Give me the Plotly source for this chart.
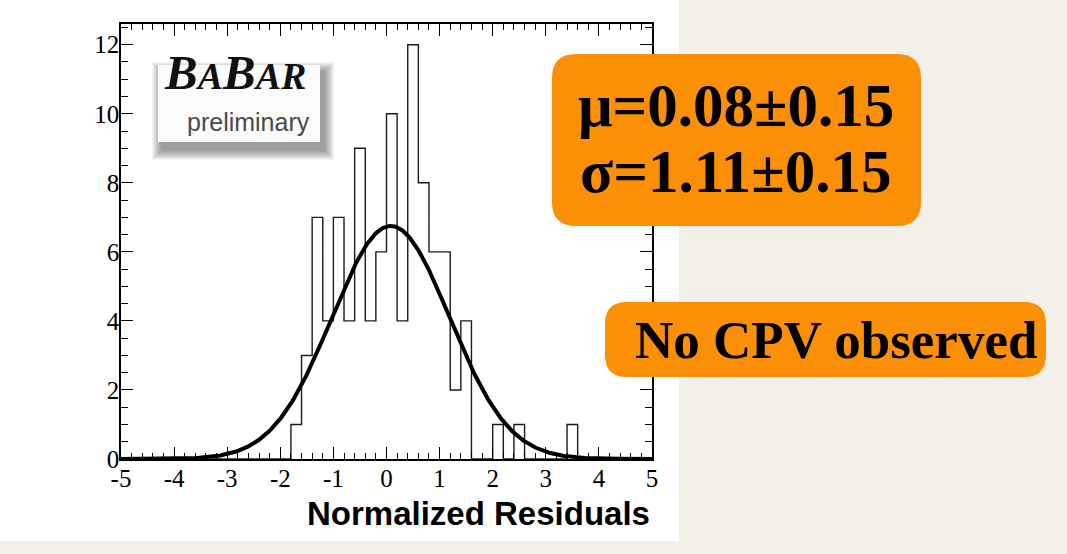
import numpy as np
import plotly.graph_objects as go

# Histogram of normalized residuals: 50 bins between -5 and 5
x_min, x_max, n_bins = -5.0, 5.0, 50
counts = [0, 0, 0, 0, 0, 0, 0, 0, 0, 0,
          0, 0, 0, 0, 0, 0, 1, 3, 7, 4,
          7, 4, 9, 4, 6, 10, 4, 12, 8, 6,
          6, 2, 4, 0, 0, 1, 0, 1, 0, 0,
          0, 0, 1, 0, 0, 0, 0, 0, 0, 0]

# Gaussian fit result
fit_mu = 0.08
fit_sigma = 1.11
fit_peak = 6.75

x_tick_vals = [-5, -4, -3, -2, -1, 0, 1, 2, 3, 4, 5]
x_tick_text = ["-5", "-4", "-3", "-2", "-1", "0", "1", "2", "3", "4", "5"]
y_tick_vals = [0, 2, 4, 6, 8, 10, 12]
y_tick_text = ["0", "2", "4", "6", "8", "10", "12"]

fit_text = ["μ=0.08±0.15", "σ=1.11±0.15"]
note_text = "No CPV observed"
x_title = "Normalized Residuals"

# ---- geometry of the page (pixels) ----
FIG_W, FIG_H = 1067, 554
L, R, T, B = 121, 415, 24, 95
PW, PH = FIG_W - L - R, FIG_H - T - B


def px(xp):
    return (xp - L) / PW


def py(yp):
    return (T + PH - yp) / PH


def rounded_rect(x0, y0, x1, y1, r):
    rx, ry = r / PW, r / PH
    X0, X1 = px(x0), px(x1)
    Y0, Y1 = py(y0), py(y1)  # Y0 top, Y1 bottom
    return (f"M {X0+rx},{Y0} L {X1-rx},{Y0} Q {X1},{Y0} {X1},{Y0-ry} "
            f"L {X1},{Y1+ry} Q {X1},{Y1} {X1-rx},{Y1} "
            f"L {X0+rx},{Y1} Q {X0},{Y1} {X0},{Y1+ry} "
            f"L {X0},{Y0-ry} Q {X0},{Y0} {X0+rx},{Y0} Z")


edges = np.linspace(x_min, x_max, n_bins + 1)
step_x = list(edges)
step_y = list(counts) + [counts[-1]]

xs = np.linspace(x_min, x_max, 600)
ys = fit_peak * np.exp(-0.5 * ((xs - fit_mu) / fit_sigma) ** 2)

fig = go.Figure()
fig.add_trace(go.Scatter(x=step_x, y=step_y, mode="lines",
                         line=dict(color="#1a1a1a", width=1.4, shape="hv"),
                         hoverinfo="skip", showlegend=False))
fig.add_trace(go.Scatter(x=xs, y=ys, mode="lines",
                         line=dict(color="black", width=4),
                         hoverinfo="skip", showlegend=False))

shapes = []
# white panel carrying the plot
shapes.append(dict(type="rect", xref="paper", yref="paper", layer="below",
                   x0=px(0), x1=px(679), y0=py(541), y1=py(0),
                   fillcolor="white", line=dict(width=0)))

# logo box with soft shadow
lx0, ly0, lx1, ly1 = 158, 65, 320, 142
for k in range(10, 0, -1):
    shapes.append(dict(type="rect", xref="paper", yref="paper",
                       x0=px(lx0 + 4 - k), x1=px(lx1 + 4 + k),
                       y0=py(ly1 + 8 + k), y1=py(ly0 + 7 - k),
                       fillcolor="rgba(0,0,0,0.045)", line=dict(width=0)))
shapes.append(dict(type="rect", xref="paper", yref="paper",
                   x0=px(lx0), x1=px(lx1), y0=py(ly1), y1=py(ly0),
                   fillcolor="#fbfbfb", line=dict(width=0)))

# orange call-out boxes
orange = "#fb8f06"
shapes.append(dict(type="path", xref="paper", yref="paper",
                   path=rounded_rect(552, 54, 921, 226, 24),
                   fillcolor=orange, line=dict(width=0)))
shapes.append(dict(type="path", xref="paper", yref="paper",
                   path=rounded_rect(605, 302, 1046, 377, 22),
                   fillcolor=orange, line=dict(width=0)))

annotations = []
serif = "Liberation Serif"
annotations.append(dict(xref="paper", yref="paper", x=px(162), y=py(102),
                        xanchor="left", yanchor="bottom", showarrow=False,
                        text="<b><i>B<span style='font-size:38px'>A</span>B"
                             "<span style='font-size:38px'>AR</span></i></b>",
                        font=dict(family=serif, size=49, color="#111")))
annotations.append(dict(xref="paper", yref="paper", x=px(312), y=py(122),
                        xanchor="right", yanchor="middle", showarrow=False,
                        text="preliminary",
                        font=dict(family="Liberation Sans", size=25, color="#4a4a4a")))
annotations.append(dict(xref="paper", yref="paper", x=px(736), y=py(106),
                        xanchor="center", yanchor="middle", showarrow=False,
                        text=f"<b>{fit_text[0]}</b>",
                        font=dict(family=serif, size=61, color="black")))
annotations.append(dict(xref="paper", yref="paper", x=px(736), y=py(171),
                        xanchor="center", yanchor="middle", showarrow=False,
                        text=f"<b>{fit_text[1]}</b>",
                        font=dict(family=serif, size=61, color="black")))
annotations.append(dict(xref="paper", yref="paper", x=px(836), y=py(340),
                        xanchor="center", yanchor="middle", showarrow=False,
                        text=f"<b>{note_text}</b>",
                        font=dict(family=serif, size=53, color="black")))
annotations.append(dict(xref="paper", yref="paper", x=px(651), y=py(513),
                        xanchor="right", yanchor="middle", showarrow=False,
                        borderpad=0,
                        text=f"<b>{x_title}</b>",
                        font=dict(family="Liberation Sans", size=33, color="black")))

axis_common = dict(showline=True, linecolor="black", linewidth=1.6,
                   mirror="allticks", ticks="inside", tickcolor="black",
                   tickwidth=1.4, showgrid=False, zeroline=False)

fig.update_layout(
    width=FIG_W, height=FIG_H,
    margin=dict(l=L, r=R, t=T, b=B, pad=0),
    paper_bgcolor="#f3f0ea", plot_bgcolor="white",
    shapes=shapes, annotations=annotations, showlegend=False,
    xaxis=dict(range=[x_min, x_max], tickmode="array", tickvals=x_tick_vals,
               ticktext=x_tick_text, ticklen=12, ticklabelstandoff=-4,
               tickfont=dict(family=serif, size=25, color="black"),
               minor=dict(ticks="inside", dtick=0.2, ticklen=6,
                          tickcolor="black", tickwidth=1.2),
               **axis_common),
    yaxis=dict(range=[0, 12.6], tickmode="array", tickvals=y_tick_vals,
               ticktext=y_tick_text, ticklen=12, ticklabelstandoff=-5,
               tickfont=dict(family=serif, size=25, color="black"),
               minor=dict(ticks="inside", dtick=0.5, ticklen=7,
                          tickcolor="black", tickwidth=1.2),
               **axis_common),
)

fig.write_html("out.html")
